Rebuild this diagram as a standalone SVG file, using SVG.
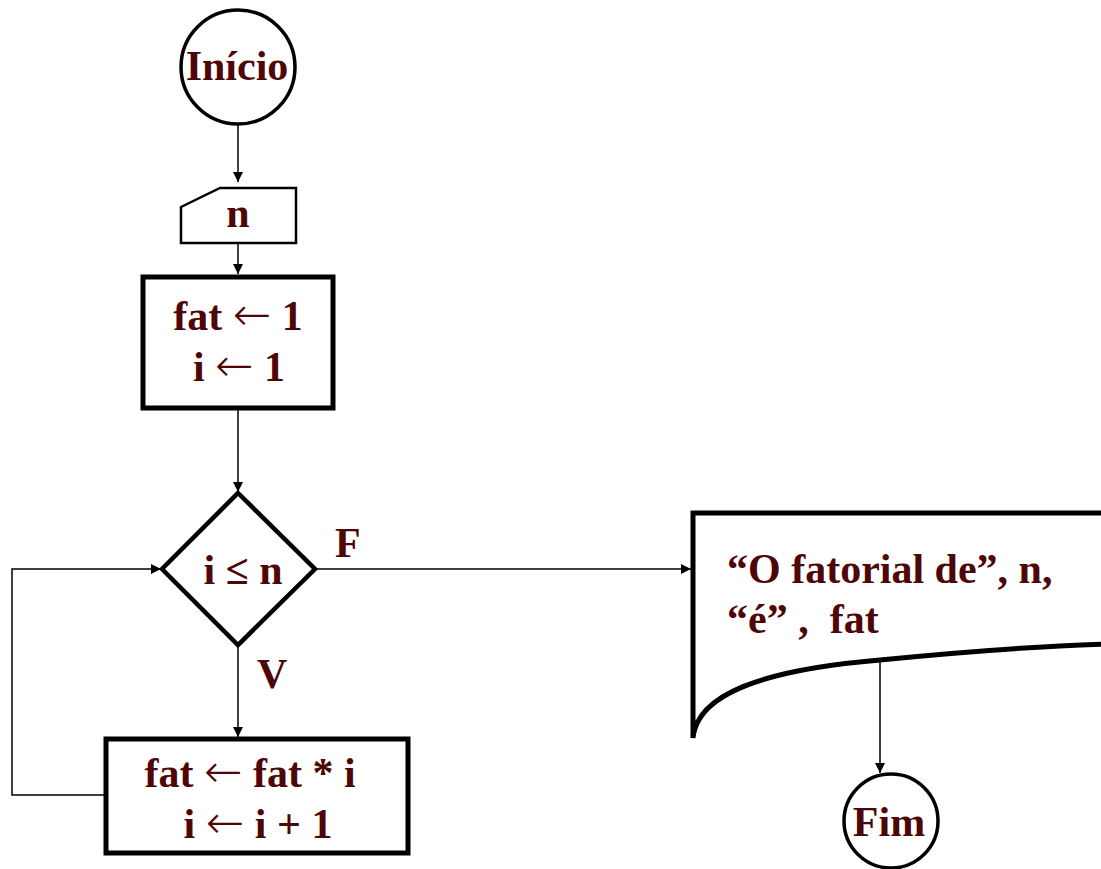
<svg xmlns="http://www.w3.org/2000/svg" width="1101" height="869" viewBox="0 0 1101 869">
<defs>
<marker id="arr" viewBox="0 0 10 10" refX="10" refY="5" markerWidth="10" markerHeight="10" markerUnits="userSpaceOnUse" orient="auto">
<path d="M0,0 L10,5 L0,10 z" fill="#000"/>
</marker>
<style>
.t{font-family:"Liberation Serif","Times New Roman",serif;font-weight:bold;font-size:42px;fill:#4f0606}
.a{font-family:"DejaVu Sans",sans-serif;font-weight:200;font-size:46px}
.c{stroke:#000;stroke-width:1.5;fill:none}
.s{fill:#fff;stroke:#000}
</style>
</defs>
<rect width="1101" height="869" fill="#fff"/>
<g id="connectors">
<path class="c" d="M238,125 L238,182" marker-end="url(#arr)"/>
<path class="c" d="M238,243 L238,274" marker-end="url(#arr)"/>
<path class="c" d="M238,400 L238,492" marker-end="url(#arr)"/>
<path class="c" d="M315,569 L691,569" marker-end="url(#arr)"/>
<path class="c" d="M238,645 L238,737" marker-end="url(#arr)"/>
<path class="c" d="M105,795 L12,795 L12,569 L161,569" marker-end="url(#arr)"/>
<path class="c" d="M880,660 L880,773" marker-end="url(#arr)"/>
</g>
<g id="inicio">
<circle class="s" cx="238" cy="67" r="57" stroke-width="3.5"/>
<text class="t" x="237" y="80" text-anchor="middle" font-size="45">Início</text>
</g>
<g id="entrada">
<path class="s" d="M181,207 L220,188 L296,188 L296,243 L181,243 Z" stroke-width="2.5"/>
<text class="t" x="238" y="227" text-anchor="middle" font-size="36">n</text>
</g>
<g id="init">
<rect class="s" x="143" y="277" width="190" height="131" stroke-width="5"/>
<text class="t" x="238" y="330" text-anchor="middle">fat <tspan class="a">←</tspan> 1</text>
<text class="t" x="239" y="381" text-anchor="middle">i <tspan class="a">←</tspan> 1</text>
</g>
<g id="decisao">
<path class="s" d="M238,493 L315,569 L238,645 L162,569 Z" stroke-width="4.5"/>
<text class="t" x="243" y="584" text-anchor="middle">i ≤ n</text>
</g>
<text class="t" x="335" y="557">F</text>
<text class="t" x="257" y="688">V</text>
<g id="corpo">
<rect class="s" x="106" y="739" width="302" height="114" stroke-width="5"/>
<text class="t" x="250" y="787" text-anchor="middle">fat <tspan class="a">←</tspan> fat * i</text>
<text class="t" x="258" y="838" text-anchor="middle">i <tspan class="a">←</tspan> i + 1</text>
</g>
<g id="saida">
<path class="s" d="M1110,513 L693,513 L693,738 C697,695 760,670 880,660 C960,652 1040,646 1110,644" stroke-width="5"/>
<text class="t" x="727" y="583">“O fatorial de”, n,</text>
<text class="t" x="727" y="633" xml:space="preserve">“é” ,  fat</text>
</g>
<g id="fim">
<circle class="s" cx="891" cy="821" r="47" stroke-width="3.5"/>
<text class="t" x="889" y="836" text-anchor="middle" font-size="46">Fim</text>
</g>
</svg>
